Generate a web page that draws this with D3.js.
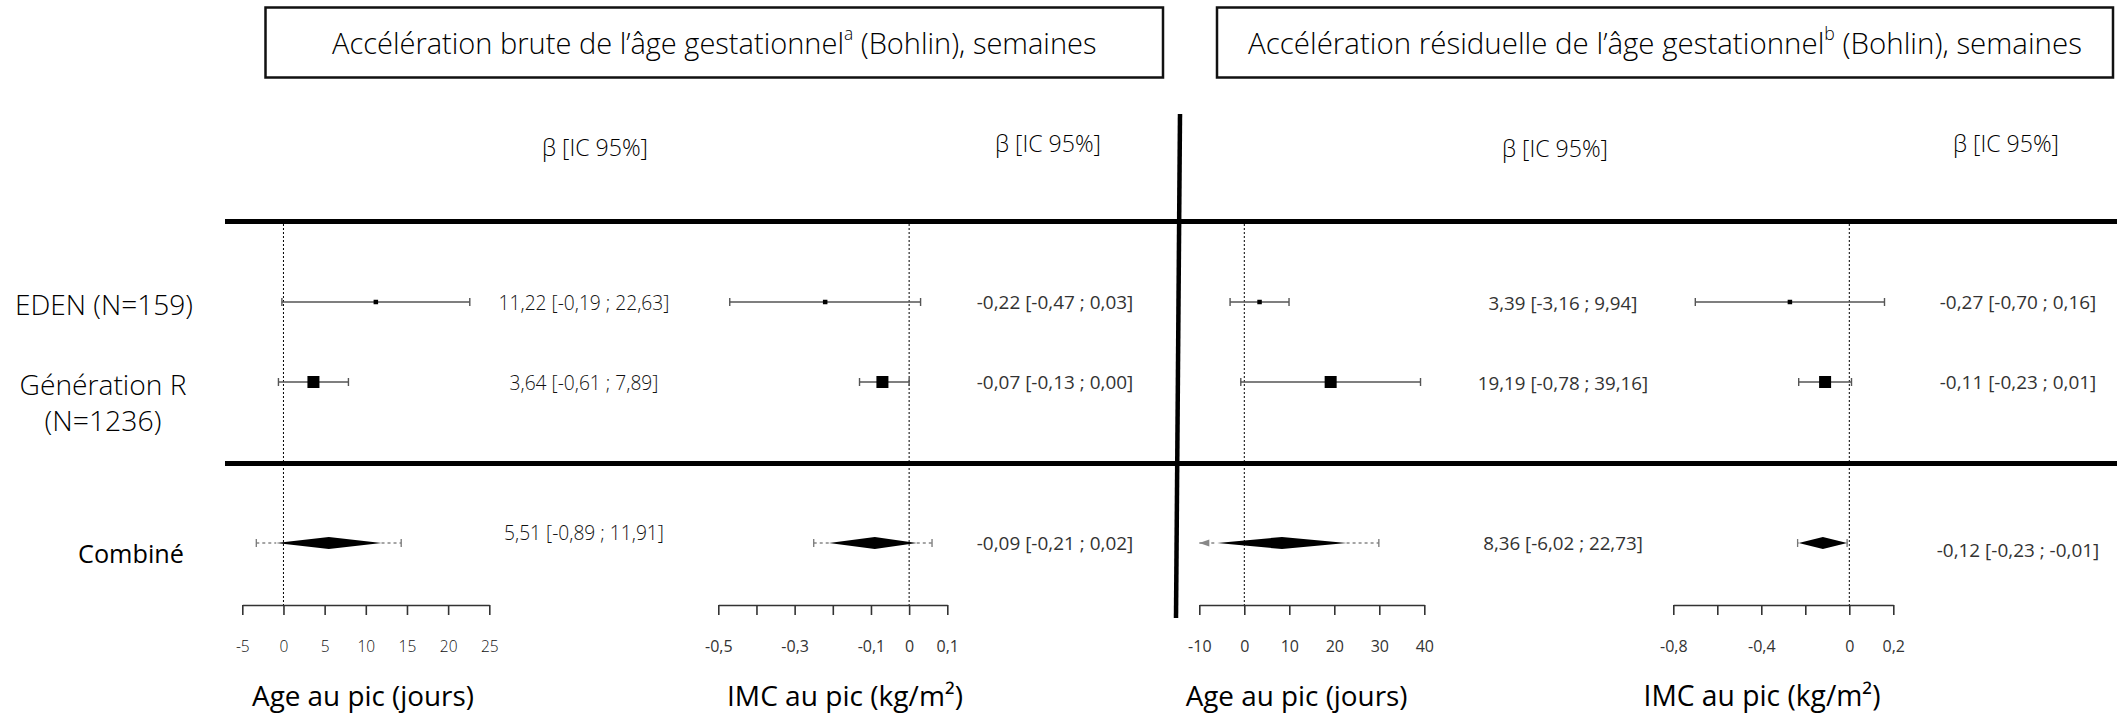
<!DOCTYPE html>
<html lang="fr">
<head>
<meta charset="utf-8">
<script src="https://cdn.jsdelivr.net/npm/d3@7"></script>
<style>
  html, body { margin: 0; padding: 0; background: #fff; }
  svg { display: block; }
  text { font-family: "Open Sans", "Noto Sans", "DejaVu Sans", sans-serif; }
</style>
</head>
<body>
<svg id="chart" width="2125" height="715"></svg>
<script>
// ---- Lignes du forest plot ----
const rowLabels = [["EDEN (N=159)"], ["Génération R", "(N=1236)"], ["Combiné"]];
const rowKinds = ["etude", "etude", "combine"];

// β et IC 95 % : [EDEN, Génération R, Combiné]
const brutAgeEst = [11.22, 3.64, 5.51];
const brutAgeLo  = [-0.19, -0.61, -0.89];
const brutAgeHi  = [22.63, 7.89, 11.91];
const brutAgePred = [-3.3, 14.3];          // intervalle de prédiction (méta-analyse)

const brutImcEst = [-0.22, -0.07, -0.09];
const brutImcLo  = [-0.47, -0.13, -0.21];
const brutImcHi  = [0.03, 0.00, 0.02];
const brutImcPred = [-0.25, 0.06];

const residAgeEst = [3.39, 19.19, 8.36];
const residAgeLo  = [-3.16, -0.78, -6.02];
const residAgeHi  = [9.94, 39.16, 22.73];
const residAgePred = [-13.2, 29.9];

const residImcEst = [-0.27, -0.11, -0.12];
const residImcLo  = [-0.70, -0.23, -0.23];
const residImcHi  = [0.16, 0.01, -0.01];
const residImcPred = [-0.235, -0.01];

// ---- Graduations ----
const brutAgeTicks = [-5, 0, 5, 10, 15, 20, 25];
const brutAgeTickLabels = [-5, 0, 5, 10, 15, 20, 25];
const brutImcTicks = [-0.5, -0.4, -0.3, -0.2, -0.1, 0, 0.1];
const brutImcTickLabels = [-0.5, -0.3, -0.1, 0, 0.1];
const residAgeTicks = [-10, 0, 10, 20, 30, 40];
const residAgeTickLabels = [-10, 0, 10, 20, 30, 40];
const residImcTicks = [-0.8, -0.6, -0.4, -0.2, 0, 0.2];
const residImcTickLabels = [-0.8, -0.4, 0, 0.2];

// ---- Textes ----
const blockTitles = [
  ["Accélération brute de l’âge gestationnel", "a", " (Bohlin), semaines"],
  ["Accélération résiduelle de l’âge gestationnel", "b", " (Bohlin), semaines"]
];
const columnHeader = "β [IC 95%]";
const axisTitles = ["Age au pic (jours)", "IMC au pic (kg/m²)", "Age au pic (jours)", "IMC au pic (kg/m²)"];

// ---- Mise en page ----
const W = 2125, H = 715;
const rowY = [302, 382, 543];
const topRuleY = 221.5, midRuleY = 463.5, ruleX = [225, 2117];
const axisY = 605;
const blockBoxes = [[265.5, 7.5, 1163, 77.5], [1217, 7.5, 2113, 77.5]];

const panels = [
  { est: brutAgeEst, lo: brutAgeLo, hi: brutAgeHi, pred: brutAgePred,
    ticks: brutAgeTicks, tickLabels: brutAgeTickLabels, axisTitle: axisTitles[0],
    range: [242.3, 489.3], headerX: 595, headerY: 147, valueX: 584, valueW: 171, valueWeight: 300, valueFill: "#111",
    combY: 532, titleX: 363, titleW: 222, tickFont: 15.5, tickWeight: 300, tickFill: "#111" },
  { est: brutImcEst, lo: brutImcLo, hi: brutImcHi, pred: brutImcPred,
    ticks: brutImcTicks, tickLabels: brutImcTickLabels, axisTitle: axisTitles[1],
    range: [718.3, 947.3], headerX: 1048, headerY: 143, valueX: 1055, valueW: 156.6, valueWeight: 400, valueFill: "#333",
    combY: 543, titleX: 845, titleW: 236, tickFont: 16, tickWeight: 400, tickFill: "#333" },
  { est: residAgeEst, lo: residAgeLo, hi: residAgeHi, pred: residAgePred,
    ticks: residAgeTicks, tickLabels: residAgeTickLabels, axisTitle: axisTitles[2],
    range: [1199.3, 1424.3], headerX: 1555, headerY: 148, valueX: 1563, valueW: 149, valueWeight: 400, valueFill: "#333",
    combY: 542, titleX: 1296.6, titleW: 222, tickFont: 16, tickWeight: 400, tickFill: "#333" },
  { est: residImcEst, lo: residImcLo, hi: residImcHi, pred: residImcPred,
    ticks: residImcTicks, tickLabels: residImcTickLabels, axisTitle: axisTitles[3],
    range: [1673.3, 1893.3], headerX: 2006, headerY: 143, valueX: 2018, valueW: 156.6, valueWeight: 400, valueFill: "#333",
    combY: 550, titleX: 1762, titleW: 237, tickFont: 16, tickWeight: 400, tickFill: "#333" }
];

const fr = d3.formatLocale({ decimal: ",", thousands: "\u00a0", grouping: [3], currency: ["", " €"], minus: "-" });
const fmt2 = fr.format(".2f");
const fmtTick = fr.format(".1~f");
const ciText = (e, l, h) => `${fmt2(e)} [${fmt2(l)} ; ${fmt2(h)}]`;

// Ajuste la taille de police pour obtenir la largeur voulue
function fitWidth(node, target) {
  const fs = parseFloat(node.getAttribute("font-size"));
  const w = node.getComputedTextLength();
  if (w > 0) node.setAttribute("font-size", (fs * target / w).toFixed(2));
  return parseFloat(node.getAttribute("font-size"));
}

const svg = d3.select("#chart");
svg.append("rect").attr("width", W).attr("height", H).attr("fill", "#fff");

// ---- Titres des deux blocs ----
blockBoxes.forEach((b, i) => {
  svg.append("rect")
    .attr("x", b[0]).attr("y", b[1]).attr("width", b[2] - b[0]).attr("height", b[3] - b[1])
    .attr("fill", "none").attr("stroke", "#111").attr("stroke-width", 2.5);
  const t = svg.append("text")
    .attr("x", (b[0] + b[2]) / 2).attr("y", (b[1] + b[3]) / 2)
    .attr("text-anchor", "middle").attr("dominant-baseline", "central")
    .attr("font-size", 26).attr("font-weight", 300).attr("fill", "#000");
  const parts = blockTitles[i];
  t.append("tspan").text(parts[0]);
  t.append("tspan").attr("font-size", "0.6em").attr("dy", "-0.55em").text(parts[1]);
  t.append("tspan").attr("dy", "0.33em").text(parts[2]);
  fitWidth(t.node(), i === 0 ? 765 : 834);
});

// ---- Règles horizontales et séparateur vertical ----
[topRuleY, midRuleY].forEach(y => {
  svg.append("line").attr("x1", ruleX[0]).attr("x2", ruleX[1]).attr("y1", y).attr("y2", y)
    .attr("stroke", "#000").attr("stroke-width", 5);
});
svg.append("line").attr("x1", 1180).attr("y1", 114).attr("x2", 1176).attr("y2", 618)
  .attr("stroke", "#000").attr("stroke-width", 4.5);

// ---- Libellés des lignes ----
const rowLabelLayout = [
  [{ x: 104, y: 304, w: 178, weight: 300 }],
  [{ x: 103, y: 384, w: 167, weight: 300 }, { x: 103, y: 420, w: 117, weight: 300 }],
  [{ x: 131, y: 553, w: 106, weight: 400 }]
];
rowLabels.forEach((lines, i) => {
  lines.forEach((txt, j) => {
    const L = rowLabelLayout[i][j];
    const t = svg.append("text").attr("x", L.x).attr("y", L.y)
      .attr("text-anchor", "middle").attr("dominant-baseline", "central")
      .attr("font-size", 26).attr("font-weight", L.weight).attr("fill", "#000").text(txt);
    fitWidth(t.node(), L.w);
  });
});

// ---- Panneaux ----
panels.forEach(p => {
  const x = d3.scaleLinear().domain([p.ticks[0], p.ticks[p.ticks.length - 1]]).range(p.range);
  const g = svg.append("g");

  // en-tête de colonne
  const h = g.append("text").attr("x", p.headerX).attr("y", p.headerY)
    .attr("text-anchor", "middle").attr("dominant-baseline", "central")
    .attr("font-size", 21).attr("font-weight", 300).attr("fill", "#000").text(columnHeader);
  fitWidth(h.node(), 106);

  // ligne de référence à zéro
  g.append("line").attr("x1", x(0)).attr("x2", x(0)).attr("y1", topRuleY + 2.5).attr("y2", axisY)
    .attr("stroke", "#000").attr("stroke-width", 1).attr("stroke-dasharray", "2,2");

  // axe
  const axis = d3.axisBottom(x).tickValues(p.ticks).tickSizeInner(10).tickSizeOuter(0)
    .tickFormat(v => p.tickLabels.some(l => Math.abs(l - v) < 1e-9) ? fmtTick(v) : "");
  const ax = g.append("g").attr("transform", `translate(0,${axisY})`).call(axis);
  ax.select(".domain").attr("stroke", "#333").attr("stroke-width", 1.6);
  ax.selectAll(".tick line").attr("stroke", "#333").attr("stroke-width", 1.6);
  ax.selectAll(".tick text").attr("y", 41).attr("dy", null).attr("dominant-baseline", "central")
    .attr("font-family", "'Open Sans', 'Noto Sans', sans-serif")
    .attr("font-size", p.tickFont).attr("font-weight", p.tickWeight).attr("fill", p.tickFill);

  // titre de l'axe
  const at = g.append("text").attr("x", p.titleX).attr("y", 695)
    .attr("text-anchor", "middle").attr("dominant-baseline", "central")
    .attr("font-size", 27).attr("font-weight", 400).attr("fill", "#000").text(p.axisTitle);
  fitWidth(at.node(), p.titleW);

  // valeurs β [IC 95 %]
  let valueFont = 17;
  rowKinds.forEach((kind, i) => {
    const yy = kind === "combine" ? p.combY : rowY[i];
    const t = g.append("text").attr("x", p.valueX).attr("y", yy)
      .attr("text-anchor", "middle").attr("dominant-baseline", "central")
      .attr("font-size", valueFont).attr("font-weight", p.valueWeight).attr("fill", p.valueFill)
      .text(ciText(p.est[i], p.lo[i], p.hi[i]));
    if (i === 0) valueFont = fitWidth(t.node(), p.valueW);
  });

  // marques
  rowKinds.forEach((kind, i) => {
    const y = rowY[i];
    if (kind === "etude") {
      g.append("line").attr("x1", x(p.lo[i])).attr("x2", x(p.hi[i])).attr("y1", y).attr("y2", y)
        .attr("stroke", "#555").attr("stroke-width", 1.4);
      [p.lo[i], p.hi[i]].forEach(v => {
        g.append("line").attr("x1", x(v)).attr("x2", x(v)).attr("y1", y - 4).attr("y2", y + 4)
          .attr("stroke", "#555").attr("stroke-width", 1.4);
      });
      const s = i === 0 ? 4.5 : 12;
      g.append("rect").attr("x", x(p.est[i]) - s / 2).attr("y", y - s / 2)
        .attr("width", s).attr("height", s).attr("fill", "#000");
    } else {
      const d0 = x.domain()[0];
      const predLo = Math.max(p.pred[0], d0);
      // intervalle de prédiction
      g.append("line").attr("x1", x(predLo)).attr("x2", x(p.lo[i])).attr("y1", y).attr("y2", y)
        .attr("stroke", "#888").attr("stroke-width", 1.3).attr("stroke-dasharray", "3,3");
      g.append("line").attr("x1", x(p.hi[i])).attr("x2", x(p.pred[1])).attr("y1", y).attr("y2", y)
        .attr("stroke", "#888").attr("stroke-width", 1.3).attr("stroke-dasharray", "3,3");
      if (p.pred[0] < d0) {
        const xa = x(d0);
        g.append("path").attr("d", `M${xa},${y}L${xa + 10},${y - 3.5}L${xa + 10},${y + 3.5}Z`).attr("fill", "#888");
      } else {
        g.append("line").attr("x1", x(p.pred[0])).attr("x2", x(p.pred[0])).attr("y1", y - 4).attr("y2", y + 4)
          .attr("stroke", "#777").attr("stroke-width", 1.3);
      }
      g.append("line").attr("x1", x(p.pred[1])).attr("x2", x(p.pred[1])).attr("y1", y - 4).attr("y2", y + 4)
        .attr("stroke", "#777").attr("stroke-width", 1.3);
      // losange de l'estimation combinée
      g.append("path")
        .attr("d", `M${x(p.lo[i])},${y}L${x(p.est[i])},${y - 6}L${x(p.hi[i])},${y}L${x(p.est[i])},${y + 6}Z`)
        .attr("fill", "#000");
    }
  });
});
</script>
</body>
</html>
